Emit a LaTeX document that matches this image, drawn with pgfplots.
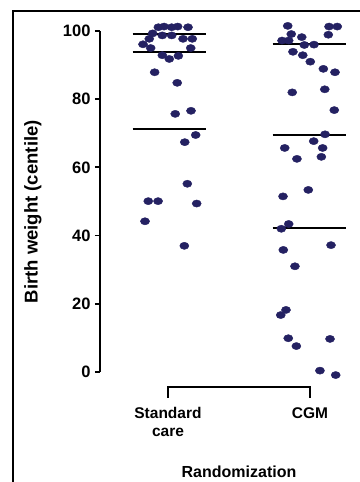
\documentclass[border=0pt]{standalone}
\usepackage{fontspec}
\setmainfont{Liberation Sans}
\usepackage{pgfplots}
\pgfplotsset{compat=1.18}
\definecolor{dotc}{RGB}{36,33,98}
\begin{document}
\begin{tikzpicture}
\begin{axis}[
  x=142pt, y=3.41pt,
  xmin=-0.479, xmax=1.317, ymin=0, ymax=100,
  clip=false,
  axis y line=left,
  axis x line=bottom,
  x axis line style={draw=none},
  y axis line style={-, line width=1.8pt},
  tick align=outside,
  major tick length=5pt,
  ytick={0,20,40,60,80,100},
  ytick style={line width=1.8pt, black},
  xtick={0,1},
  xticklabels={{Standard\\care},{CGM}},
  xtick style={draw=none},
  xticklabel style={align=center, anchor=north, yshift=-27pt},
  tick label style={font=\fontsize{15.5}{18}\selectfont\bfseries},
  yticklabel style={font=\fontsize{16.5}{18}\selectfont\bfseries, xshift=-1pt},
  /pgf/number format/assume math mode=true,
  ylabel={Birth weight (centile)},
  every axis y label/.style={at={(axis cs:-0.9507,47)}, rotate=90, anchor=center,
     font=\fontsize{18.5}{20}\selectfont\bfseries},
  xlabel={Randomization},
  every axis x label/.style={at={(axis cs:0.5,-29.24)}, anchor=center,
     font=\fontsize{16}{18}\selectfont\bfseries},
]
\addplot[only marks, mark=*, mark size=3.6pt, color=dotc,
  mark options={xscale=1.27, fill=dotc, draw=dotc}] coordinates {
(-0.068,101.1) (-0.028,101.3) (0.026,101.1) (0.068,101.3) (0.141,101.1)
(-0.108,99.3) (-0.040,98.7) (0.026,98.7) (-0.132,97.7) (0.106,97.7)
(0.171,97.7) (-0.176,96.1) (-0.122,95.0) (0.160,95.0) (-0.040,92.9)
(0.009,91.8) (0.073,92.7) (-0.094,87.9) (0.065,84.8) (0.162,76.6)
(0.051,75.7) (0.195,69.5) (0.118,67.4) (0.136,55.2) (-0.139,50.1)
(-0.070,50.1) (0.202,49.4) (-0.162,44.2) (0.115,37.0)
};
\addplot[only marks, mark=*, mark size=3.6pt, color=dotc,
  mark options={xscale=1.27, fill=dotc, draw=dotc}] coordinates {
(0.843,101.5) (1.134,101.3) (1.192,101.3) (0.868,99.1) (1.129,98.9)
(0.942,98.2) (0.803,97.2) (0.850,97.2) (0.960,95.9) (1.028,96.0)
(0.880,93.9) (0.949,92.9) (1.002,91.0) (1.094,88.9) (1.176,87.9)
(0.875,82.0) (1.104,82.9) (1.171,76.8) (1.106,69.7) (1.026,67.7)
(0.822,65.7) (1.089,65.7) (0.908,62.5) (1.080,63.1) (0.988,53.4)
(0.810,51.5) (0.850,43.4) (0.798,42.0) (1.148,37.2) (0.812,35.8)
(0.894,31.0) (0.831,18.2) (0.794,16.7) (0.847,9.9) (1.141,9.7)
(0.904,7.6) (1.070,0.4) (1.181,-0.9)
};
% quartile / median lines
\addplot[black, line width=1.8pt] coordinates {(-0.249,99.1) (0.267,99.1)};
\addplot[black, line width=1.8pt] coordinates {(-0.249,93.8) (0.267,93.8)};
\addplot[black, line width=1.8pt] coordinates {(-0.249,71.2) (0.267,71.2)};
\addplot[black, line width=1.8pt] coordinates {(0.737,96.1) (1.254,96.1)};
\addplot[black, line width=1.8pt] coordinates {(0.737,69.6) (1.254,69.6)};
\addplot[black, line width=1.8pt] coordinates {(0.737,42.3) (1.254,42.3)};
% x axis bracket
\draw[line width=1.8pt, line cap=rect] (axis cs:0,-7.33) -- (axis cs:0,-4.40) -- (axis cs:1,-4.40) -- (axis cs:1,-7.33);
% frame
\draw[line width=2.4pt] (axis cs:-1.0915,-40) -- (axis cs:-1.0915,105.87) -- (axis cs:1.6,105.87);
\coordinate (bl) at (axis cs:-1.1831,-32.26);
\coordinate (tr) at (axis cs:1.3521,109.09);
\end{axis}
\pgfresetboundingbox
\path[use as bounding box] (bl) rectangle (tr);
\end{tikzpicture}
\end{document}
